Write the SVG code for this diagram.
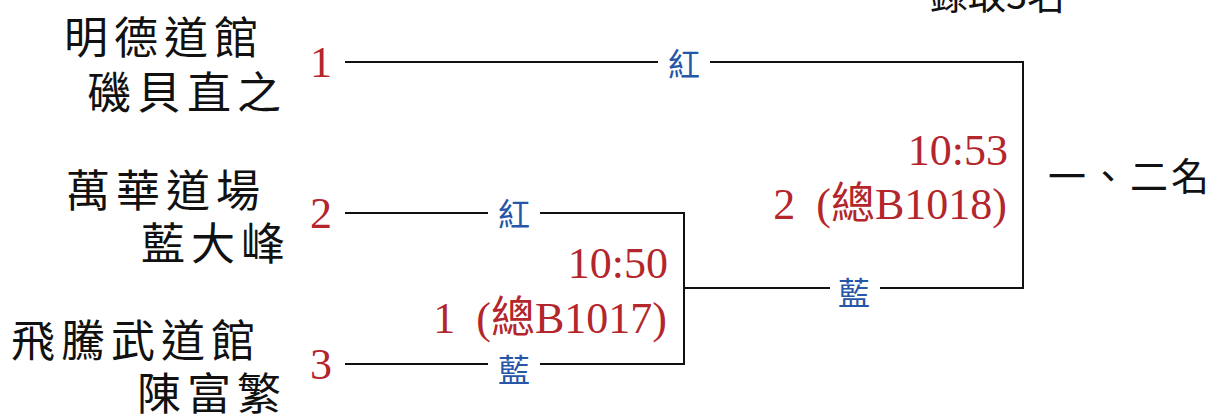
<svg xmlns="http://www.w3.org/2000/svg" width="1213" height="414" viewBox="0 0 1213 414">
<style>
.name{font-family:"Noto Sans CJK TC","Noto Sans CJK SC",sans-serif;font-size:44px;letter-spacing:6px;fill:#111}
.seed{font-family:"Liberation Serif","DejaVu Serif",serif;font-size:44px;fill:#b3262c;text-anchor:middle}
.info{font-family:"Liberation Serif","Noto Sans CJK TC",serif;font-size:44px;fill:#b3262c;text-anchor:end}
.side{font-family:"Noto Sans CJK TC",sans-serif;font-size:32px;fill:#2656a8;text-anchor:middle}
.title{font-family:"Noto Sans CJK TC","Liberation Serif",sans-serif;font-size:38px;fill:#111}
.ln{stroke:#111;stroke-width:2;fill:none}
</style>
<text class="title" x="930" y="9">錄取3名</text>
<g id="p1"><text class="name" x="64" y="54">明德道館</text><text class="name" x="87" y="109">磯貝直之</text><text class="seed" x="321" y="77">1</text></g>
<g id="p2"><text class="name" x="66" y="207">萬華道場</text><text class="name" x="141" y="260">藍大峰</text><text class="seed" x="321" y="228">2</text></g>
<g id="p3"><text class="name" x="11" y="357">飛騰武道館</text><text class="name" x="137" y="410">陳富繁</text><text class="seed" x="321" y="379">3</text></g>
<g id="connectors">
<path class="ln" d="M345 62H658M710 62H1023V288H880M830 288H684"/>
<path class="ln" d="M345 213H488M540 213H684V364H540M488 364H345"/>
</g>
<g id="m1"><text class="side" x="514" y="226">紅</text><text class="side" x="514" y="382">藍</text><text class="info" x="668" y="278">10:50</text><text class="info" x="667" y="333">1 <tspan dx="10">(總B1017)</tspan></text></g>
<g id="m2"><text class="side" x="684" y="76">紅</text><text class="side" x="854" y="305">藍</text><text class="info" x="1008" y="165">10:53</text><text class="info" x="1007" y="219">2 <tspan dx="10">(總B1018)</tspan></text></g>
<g id="result"><text class="title" x="1048" y="190" style="letter-spacing:3px">一、二名</text></g>
</svg>
